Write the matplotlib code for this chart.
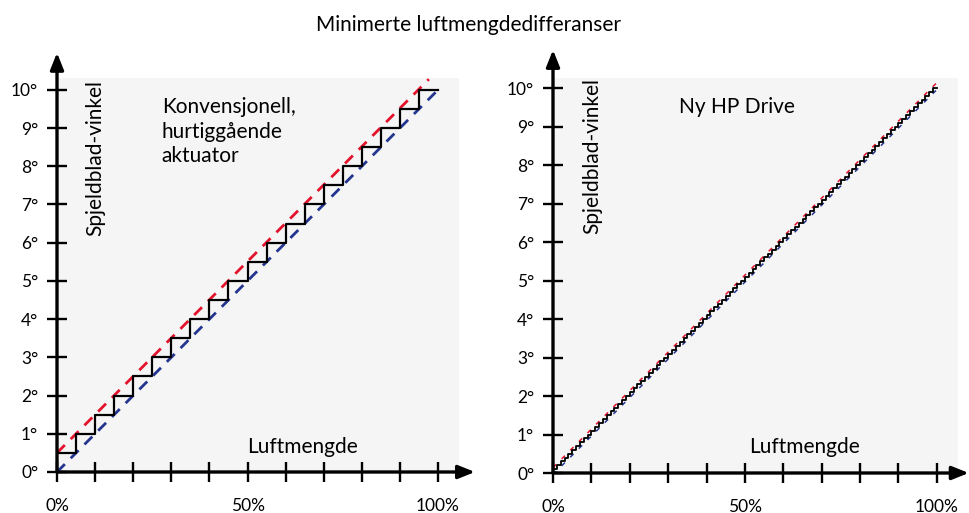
import matplotlib
matplotlib.use("Agg")
import matplotlib.pyplot as plt

plt.rcParams['font.family'] = ['Lato', 'DejaVu Sans']

# --- data ---------------------------------------------------------------
title = "Minimerte luftmengdedifferanser"
y_label = "Spjeldblad-vinkel"
x_label = "Luftmengde"
y_ticks = [0, 1, 2, 3, 4, 5, 6, 7, 8, 9, 10]
y_tick_labels = ["0°", "1°", "2°", "3°", "4°", "5°", "6°", "7°", "8°", "9°", "10°"]
x_ticks = [0, 10, 20, 30, 40, 50, 60, 70, 80, 90, 100]
x_tick_labels = ["0%", "", "", "", "", "50%", "", "", "", "", "100%"]

# conventional actuator: 20 steps of 0.5 deg over 5 % airflow each
conv_label = "Konvensjonell,\nhurtiggående\naktuator"
conv_x = [0, 5, 10, 15, 20, 25, 30, 35, 40, 45, 50, 55, 60, 65, 70, 75, 80,
          85, 90, 95, 100]
conv_y = [0.5, 1.0, 1.5, 2.0, 2.5, 3.0, 3.5, 4.0, 4.5, 5.0, 5.5, 6.0, 6.5,
          7.0, 7.5, 8.0, 8.5, 9.0, 9.5, 10.0, 10.0]
conv_upper_x = [0, 97.6]
conv_upper_y = [0.5, 10.28]
conv_lower_x = [0, 100]
conv_lower_y = [0.0, 10.0]

# HP Drive: 100 steps of 0.1 deg over 1 % airflow each
hp_label = "Ny HP Drive"
hp_x = [0, 1, 2, 3, 4, 5, 6, 7, 8, 9, 10, 11, 12, 13, 14, 15, 16, 17, 18, 19,
        20, 21, 22, 23, 24, 25, 26, 27, 28, 29, 30, 31, 32, 33, 34, 35, 36, 37,
        38, 39, 40, 41, 42, 43, 44, 45, 46, 47, 48, 49, 50, 51, 52, 53, 54, 55,
        56, 57, 58, 59, 60, 61, 62, 63, 64, 65, 66, 67, 68, 69, 70, 71, 72, 73,
        74, 75, 76, 77, 78, 79, 80, 81, 82, 83, 84, 85, 86, 87, 88, 89, 90, 91,
        92, 93, 94, 95, 96, 97, 98, 99, 100]
hp_y = [0.1, 0.2, 0.3, 0.4, 0.5, 0.6, 0.7, 0.8, 0.9, 1.0, 1.1, 1.2, 1.3, 1.4,
        1.5, 1.6, 1.7, 1.8, 1.9, 2.0, 2.1, 2.2, 2.3, 2.4, 2.5, 2.6, 2.7, 2.8,
        2.9, 3.0, 3.1, 3.2, 3.3, 3.4, 3.5, 3.6, 3.7, 3.8, 3.9, 4.0, 4.1, 4.2,
        4.3, 4.4, 4.5, 4.6, 4.7, 4.8, 4.9, 5.0, 5.1, 5.2, 5.3, 5.4, 5.5, 5.6,
        5.7, 5.8, 5.9, 6.0, 6.1, 6.2, 6.3, 6.4, 6.5, 6.6, 6.7, 6.8, 6.9, 7.0,
        7.1, 7.2, 7.3, 7.4, 7.5, 7.6, 7.7, 7.8, 7.9, 8.0, 8.1, 8.2, 8.3, 8.4,
        8.5, 8.6, 8.7, 8.8, 8.9, 9.0, 9.1, 9.2, 9.3, 9.4, 9.5, 9.6, 9.7, 9.8,
        9.9, 10.0, 10.0]
hp_upper_x = [0, 100]
hp_upper_y = [0.14, 10.14]
hp_lower_x = [0, 100]
hp_lower_y = [-0.04, 9.96]

RED = '#e3132c'
BLUE = '#24358f'
BG = '#f5f5f5'

W, H = 969, 513
fig = plt.figure(figsize=(W / 100, H / 100), dpi=100)


def make_axes(px_left, px_right, px_bottom, px_top, xmax, ymax):
    """Axes given in pixel edges of the grey plot area."""
    ax = fig.add_axes([px_left / W, (H - px_bottom) / H,
                       (px_right - px_left) / W, (px_bottom - px_top) / H])
    ax.set_facecolor(BG)
    ax.set_xlim(0, xmax)
    ax.set_ylim(0, ymax)
    for s in ax.spines.values():
        s.set_visible(False)
    ax.set_xticks(x_ticks)
    ax.set_xticklabels(x_tick_labels)
    ax.set_yticks(y_ticks)
    ax.set_yticklabels(y_tick_labels)
    ax.tick_params(direction='inout', length=15, width=1.7, labelsize=12.5,
                   color='black')
    ax.tick_params(axis='x', pad=11)
    ax.tick_params(axis='y', pad=6)
    return ax


def draw_axis_arrows(ax, x_tip, y_tip):
    arrow = dict(arrowstyle='-|>,head_length=1.0,head_width=0.4',
                 color='black', lw=2.4, shrinkA=0, shrinkB=0)
    ax.annotate('', xy=(0, y_tip), xytext=(0, 0), arrowprops=arrow,
                annotation_clip=False)
    ax.annotate('', xy=(x_tip, 0), xytext=(0, 0), arrowprops=arrow,
                annotation_clip=False)


# left panel: conventional actuator
ax1 = make_axes(57, 459, 472, 78, 105.5, 10.31)
ax1.plot(conv_upper_x, conv_upper_y, color=RED, lw=2, dashes=(4, 3), zorder=3)
ax1.plot(conv_lower_x, conv_lower_y, color=BLUE, lw=2, dashes=(4, 3), zorder=3)
ax1.step(conv_x, conv_y, where='post', color='black', lw=1.6, zorder=4)
draw_axis_arrows(ax1, 109.7, 10.97)
ax1.text(10, 10.27, y_label, rotation=90, ha='center', va='top', fontsize=15)
ax1.text(27.5, 9.82, conv_label, ha='left', va='top', fontsize=15,
         linespacing=1.3)
ax1.text(64.3, 0.5, x_label, ha='center', va='baseline', fontsize=15)

# right panel: HP Drive
ax2 = make_axes(553, 958, 473, 78, 105.5, 10.26)
ax2.plot(hp_upper_x, hp_upper_y, color=RED, lw=1.1, dashes=(3, 5), zorder=3)
ax2.plot(hp_lower_x, hp_lower_y, color=BLUE, lw=1.1, dashes=(3, 5), zorder=3)
ax2.step(hp_x, hp_y, where='post', color='black', lw=1.3, zorder=4)
draw_axis_arrows(ax2, 108.3, 10.99)
ax2.text(10.2, 10.27, y_label, rotation=90, ha='center', va='top', fontsize=15)
ax2.text(32.8, 9.77, hp_label, ha='left', va='top', fontsize=15)
ax2.text(65.4, 0.52, x_label, ha='center', va='baseline', fontsize=15)

fig.text(469 / W, 1 - 25 / H, title, ha='center', va='center', fontsize=15)

fig.savefig("out.png", dpi=100)
